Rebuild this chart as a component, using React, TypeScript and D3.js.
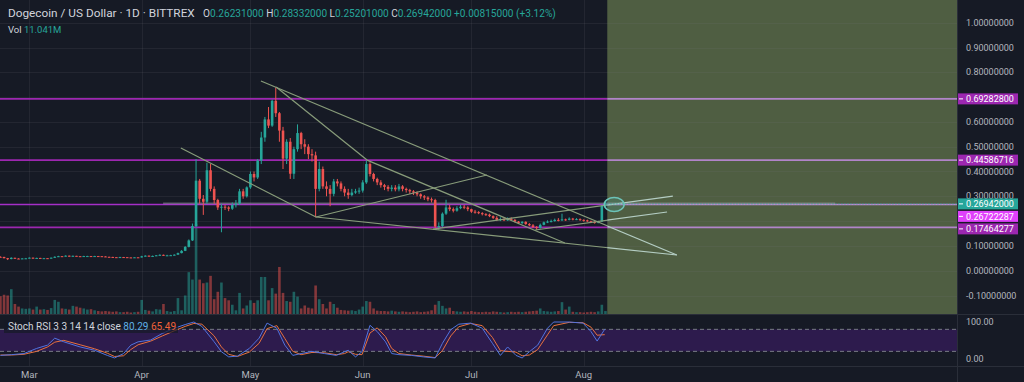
import React from 'react';
import * as d3 from 'd3';

// ---------- DATA (day 0 = 2021-02-21, daily candles) ----------
const firstOpen = 0.056;
const closes = [
  // Feb 21-28
  0.0555, 0.0505, 0.0470, 0.0520, 0.0490, 0.0485, 0.0495, 0.0500,
  // Mar
  0.0525, 0.0500, 0.0515, 0.0500, 0.0505, 0.0500, 0.0525, 0.0560, 0.0585, 0.0575, 0.0605, 0.0580, 0.0600, 0.0585, 0.0575, 0.0590,
  0.0590, 0.0580, 0.0590, 0.0585, 0.0575, 0.0560, 0.0555, 0.0545, 0.0540, 0.0550, 0.0545, 0.0535, 0.0530, 0.0540, 0.0535,
  // Apr
  0.0580, 0.0605, 0.0590, 0.0595, 0.0620, 0.0640, 0.0615, 0.0620, 0.0625, 0.0645, 0.0710, 0.0800, 0.0960, 0.1220, 0.1800,
  0.3630, 0.2900, 0.2780, 0.4050, 0.3300, 0.2850, 0.2550, 0.2580, 0.2550, 0.2500, 0.2650, 0.2700, 0.3200, 0.3000, 0.3360,
  // May
  0.3900, 0.3760, 0.4440, 0.5370, 0.6100, 0.5850, 0.6850, 0.6350, 0.5650, 0.4520, 0.5200, 0.3910, 0.4900, 0.5550, 0.5100, 0.5000,
  0.4700, 0.4650, 0.3300, 0.4100, 0.3400, 0.3300, 0.3100, 0.3600, 0.3520, 0.3300, 0.3150, 0.3050, 0.3150, 0.3200, 0.3230,
  // Jun
  0.3560, 0.4300, 0.3900, 0.3700, 0.3560, 0.3450, 0.3380, 0.3300, 0.3350, 0.3280, 0.3400, 0.3300, 0.3250, 0.3200, 0.3150,
  0.3080, 0.3000, 0.2950, 0.2880, 0.2850, 0.1780, 0.1800, 0.2300, 0.2550, 0.2480, 0.2420, 0.2520, 0.2580, 0.2550, 0.2480,
  // Jul
  0.2380, 0.2360, 0.2320, 0.2280, 0.2260, 0.2200, 0.2130, 0.2050, 0.2080, 0.2030, 0.2100, 0.2050, 0.1980, 0.1920, 0.1970, 0.1880,
  0.1830, 0.1760, 0.1720, 0.1850, 0.1950, 0.1980, 0.2000, 0.2050, 0.2030, 0.2070, 0.2050, 0.2100, 0.2070, 0.2080, 0.2050,
  // Aug
  0.2030, 0.2000, 0.1960, 0.1940, 0.1980, 0.2613, 0.2694,
];
const highs = [
  0.0580, 0.0560, 0.0515, 0.0540, 0.0525, 0.0505, 0.0510, 0.0515,
  0.0535, 0.0530, 0.0525, 0.0520, 0.0515, 0.0510, 0.0530, 0.0580, 0.0600, 0.0590, 0.0620, 0.0610, 0.0610, 0.0600, 0.0590, 0.0600,
  0.0600, 0.0595, 0.0600, 0.0595, 0.0590, 0.0580, 0.0565, 0.0560, 0.0550, 0.0560, 0.0555, 0.0550, 0.0540, 0.0545, 0.0545,
  0.0600, 0.0620, 0.0615, 0.0610, 0.0630, 0.0660, 0.0650, 0.0640, 0.0640, 0.0660, 0.0730, 0.0830, 0.0990, 0.1260, 0.1900,
  0.4500, 0.3700, 0.3050, 0.4350, 0.4300, 0.3400, 0.2900, 0.2700, 0.2650, 0.2600, 0.2750, 0.2850, 0.3300, 0.3300, 0.3400,
  0.4000, 0.4000, 0.4500, 0.5600, 0.6200, 0.6600, 0.6900, 0.7390, 0.6400, 0.5800, 0.5300, 0.5350, 0.5000, 0.5900, 0.5600, 0.5300,
  0.5100, 0.4900, 0.4800, 0.4400, 0.4200, 0.3600, 0.3450, 0.3700, 0.3700, 0.3600, 0.3400, 0.3300, 0.3300, 0.3300, 0.3350,
  0.3650, 0.4440, 0.4370, 0.3950, 0.3750, 0.3650, 0.3500, 0.3450, 0.3450, 0.3450, 0.3500, 0.3450, 0.3350, 0.3300, 0.3250,
  0.3200, 0.3120, 0.3050, 0.3000, 0.2950, 0.2900, 0.1950, 0.2350, 0.2860, 0.2650, 0.2550, 0.2600, 0.2650, 0.2650, 0.2600,
  0.2500, 0.2450, 0.2400, 0.2360, 0.2320, 0.2300, 0.2230, 0.2200, 0.2150, 0.2120, 0.2150, 0.2150, 0.2080, 0.2000, 0.2000, 0.1990,
  0.1920, 0.1880, 0.1800, 0.1900, 0.1980, 0.2030, 0.2060, 0.2100, 0.2120, 0.2300, 0.2100, 0.2150, 0.2130, 0.2120, 0.2110,
  0.2070, 0.2060, 0.2020, 0.1990, 0.2010, 0.2660, 0.2833,
];
const lows = [
  0.0540, 0.0495, 0.0430, 0.0460, 0.0480, 0.0470, 0.0480, 0.0485,
  0.0495, 0.0490, 0.0495, 0.0490, 0.0490, 0.0490, 0.0495, 0.0520, 0.0550, 0.0560, 0.0570, 0.0570, 0.0575, 0.0575, 0.0565, 0.0570,
  0.0580, 0.0575, 0.0575, 0.0575, 0.0565, 0.0550, 0.0545, 0.0535, 0.0530, 0.0535, 0.0535, 0.0525, 0.0520, 0.0525, 0.0525,
  0.0530, 0.0570, 0.0575, 0.0580, 0.0590, 0.0610, 0.0600, 0.0600, 0.0605, 0.0615, 0.0640, 0.0700, 0.0790, 0.0940, 0.1200,
  0.1750, 0.2700, 0.2250, 0.2700, 0.3200, 0.2700, 0.2450, 0.1550, 0.2450, 0.2400, 0.2450, 0.2550, 0.2650, 0.2900, 0.2950,
  0.3300, 0.3600, 0.3700, 0.4300, 0.5200, 0.5750, 0.5800, 0.6200, 0.5200, 0.4100, 0.4300, 0.3700, 0.3700, 0.4800, 0.4900, 0.4700,
  0.4500, 0.4400, 0.2150, 0.3200, 0.3300, 0.3000, 0.2600, 0.3000, 0.3400, 0.3200, 0.3000, 0.2900, 0.3000, 0.3100, 0.3100,
  0.3150, 0.3500, 0.3800, 0.3600, 0.3450, 0.3350, 0.3250, 0.3200, 0.3200, 0.3200, 0.3200, 0.3200, 0.3150, 0.3100, 0.3050,
  0.3000, 0.2900, 0.2850, 0.2800, 0.2750, 0.1700, 0.1650, 0.1750, 0.2250, 0.2400, 0.2350, 0.2380, 0.2480, 0.2480, 0.2400,
  0.2330, 0.2300, 0.2280, 0.2230, 0.2210, 0.2160, 0.2080, 0.2000, 0.2000, 0.2000, 0.2010, 0.2020, 0.1950, 0.1880, 0.1880, 0.1850,
  0.1800, 0.1720, 0.1650, 0.1700, 0.1830, 0.1920, 0.1950, 0.1980, 0.1990, 0.2000, 0.2010, 0.2030, 0.2030, 0.2040, 0.2010,
  0.1980, 0.1970, 0.1920, 0.1900, 0.1910, 0.1960, 0.2520,
];
const volumes = [
  48, 52, 50, 67, 27, 20, 15, 14,
  15, 12, 20, 12, 13, 11, 16, 38, 33, 15, 14, 12, 22, 20, 17, 15, 12, 13, 10, 8, 7, 8, 7, 6, 7, 5, 5, 6, 4, 5, 6,
  38, 11, 9, 7, 13, 12, 27, 8, 6, 8, 43, 10, 50, 113, 93, 243, 93, 83, 85, 103, 40, 60, 85, 43, 37, 25, 10, 57, 15, 23,
  37, 30, 37, 100, 100, 37, 70, 55, 127, 57, 35, 33, 60, 47, 15, 23, 17, 15, 77, 40, 27, 15, 33, 27, 17, 11, 10, 9, 10, 8, 12,
  20, 35, 33, 15, 9, 8, 8, 7, 9, 7, 6, 7, 6, 5, 6, 7, 5, 6, 7, 10, 25, 35, 22, 15, 17, 8, 7, 6, 7, 6,
  8, 6, 5, 5, 6, 5, 7, 6, 5, 4, 5, 6, 5, 6, 5, 6, 7, 8, 9, 15, 8, 7, 6, 7, 8, 32, 12, 20, 6, 5, 5,
  4, 5, 6, 5, 7, 25, 8,
];

const purpleLevels = [0.692828, 0.44586716, 0.17464277];
const magentaLevel = 0.26722287;
const lastPrice = 0.26942;
const priceTicks = [1.0, 0.9, 0.8, 0.6, 0.5, 0.4, 0.3, 0.1, 0.0, -0.1];
const gridLevels = [1.0, 0.9, 0.8, 0.7, 0.6, 0.5, 0.4, 0.3, 0.2, 0.1, 0.0, -0.1];
const monthLabels = ['Mar', 'Apr', 'May', 'Jun', 'Jul', 'Aug'];
const monthDays = [8, 39, 69, 100, 130, 161];

// trend lines: [day0, price0, day1, price1]
const trendLines = [
  [49.8, 0.495, 87.1, 0.2165],
  [87.1, 0.2165, 186.7, 0.0633],
  [87.1, 0.2165, 134.3, 0.386],
  [71.9, 0.765, 186.7, 0.0633],
  [76.1, 0.741, 101.2, 0.446],
  [101.2, 0.446, 155.8, 0.1117],
  [119.4, 0.168, 185.6, 0.301],
  [147.6, 0.164, 184.0, 0.2367],
];
const greyRay = [44.9, 230.4, 0.2715];
const ellipse = [169.4, 0.267, 2.76, 0.028];
const futureStartDay = 167.5;

const stochDays = [0, 3, 6.5, 10, 13, 15, 17.5, 22, 26, 29.5, 31.5, 34, 36, 38, 41.5, 44.7, 48, 51, 53.4, 55.6, 59, 61, 63, 65.4,
  68.7, 71.4, 73.6, 76.3, 78.5, 80.7, 83, 86, 89.4, 92.7, 95, 96, 98, 99.8, 102, 104, 106.3, 108, 110, 113.4, 116.7, 120, 122,
  124.3, 126.5, 129.8, 133, 135.8, 138, 140, 142.3, 144, 146, 148.3, 151, 152.7, 157, 160.8, 163, 164.7, 166.8];
const stochK = [9, 11, 14, 28, 37, 56, 46, 32, 23, 9, 2, 14, 37, 46, 51, 69, 83, 93, 100, 88, 46, 19, 5, 7,
  28, 56, 97, 83, 37, 9, 14, 20, 14, 9, 19, 23, 5, 19, 91, 74, 46, 14, 11, 9, 5, 2, 42,
  79, 94, 97, 83, 42, 9, 32, 9, 2, 19, 37, 83, 100, 100, 97, 74, 48, 80.29];
const stochD = [10, 10, 12, 20, 32, 45, 50, 38, 27, 15, 6, 8, 25, 38, 48, 62, 76, 88, 96, 94, 62, 32, 12, 6,
  18, 42, 82, 90, 55, 20, 11, 17, 16, 11, 14, 19, 12, 11, 70, 84, 60, 28, 14, 10, 7, 3, 22,
  62, 87, 96, 90, 58, 22, 20, 18, 8, 10, 25, 65, 90, 99, 98, 86, 64, 65.49];

// ---------- CHART ----------
const W = 1024;
const H = 382;
const AXIS_X = 957;
const MAIN_BOTTOM = 314;
const ST_TOP = 315;
const ST_BOTTOM = 366;
const FONT = "Roboto, 'Liberation Sans', Arial, sans-serif";
const UP = '#26a69a';
const DOWN = '#ef5350';

export default function App() {
  const x = d3.scaleLinear().domain([0, 264]).range([0.42, 0.42 + 264 * 3.623]);
  const y = d3.scaleLinear().domain([-0.1, 1]).range([295.5, 22.7]);
  const vy = d3.scaleLinear().domain([0, 243]).range([MAIN_BOTTOM, MAIN_BOTTOM - 90]);
  const sy = d3.scaleLinear().domain([0, 100]).range([358.7, 322]);

  const candles = closes.map((c, i) => ({
    i, o: i === 0 ? firstOpen : closes[i - 1], h: highs[i], l: lows[i], c, v: volumes[i],
  }));
  const bw = 2.6;

  const stLine = d3.line<number>().x((_, i) => x(stochDays[i])).y((v) => sy(v));
  const fmt = (v: number) => (v < 0 ? '-' : '') + Math.abs(v).toFixed(8);
  const futureX = x(futureStartDay);

  const lastX = x(closes.length - 1);
  const yTeal = y(lastPrice);
  const yMag = yTeal + 12.5;
  const yLow = Math.max(y(purpleLevels[2]), yMag + 12.5);

  const axisLabels = [
    { v: purpleLevels[0], yy: y(purpleLevels[0]), bg: '#9c27b0', fg: '#ffffff' },
    { v: purpleLevels[1], yy: y(purpleLevels[1]), bg: '#9c27b0', fg: '#ffffff' },
    { v: lastPrice, yy: yTeal, bg: '#26a69a', fg: '#ffffff' },
    { v: magentaLevel, yy: yMag, bg: '#e040fb', fg: '#ffffff' },
    { v: purpleLevels[2], yy: yLow, bg: '#9c27b0', fg: '#ffffff' },
  ];

  const levelLines = (col: string, magCol: string) => (
    <g>
      {purpleLevels.map((p) => (
        <line key={'p' + p} x1={0} x2={AXIS_X} y1={y(p)} y2={y(p)} stroke={col} strokeWidth={1.8} />
      ))}
      <line x1={0} x2={AXIS_X} y1={y(magentaLevel)} y2={y(magentaLevel)} stroke={magCol} strokeWidth={1.6} />
    </g>
  );
  const trends = (col: string) => (
    <g>
      {trendLines.map((t, i) => (
        <line key={'t' + i} x1={x(t[0])} y1={y(t[1])} x2={x(t[2])} y2={y(t[3])} stroke={col} strokeWidth={1.2} />
      ))}
    </g>
  );

  return (
    <svg width={W} height={H} style={{ position: 'absolute', left: 0, top: 0, display: 'block' }} fontFamily={FONT}>
      <defs>
        <clipPath id="pastClip"><rect x={0} y={0} width={futureX} height={MAIN_BOTTOM} /></clipPath>
        <clipPath id="futClip"><rect x={futureX} y={0} width={AXIS_X - futureX} height={MAIN_BOTTOM} /></clipPath>
        <clipPath id="mainClip"><rect x={0} y={0} width={AXIS_X} height={MAIN_BOTTOM} /></clipPath>
        <clipPath id="stClip"><rect x={0} y={ST_TOP} width={AXIS_X} height={ST_BOTTOM - ST_TOP} /></clipPath>
      </defs>
      <rect x={0} y={0} width={W} height={H} fill="#161a25" />

      {/* future highlighted zone */}
      <rect x={futureX} y={0} width={AXIS_X - futureX} height={MAIN_BOTTOM} fill="#4f5e42" />

      {/* grid */}
      <g stroke="rgba(120,123,134,0.13)" strokeWidth={1}>
        {gridLevels.map((g) => (
          <line key={'g' + g} x1={0} x2={AXIS_X} y1={Math.round(y(g)) + 0.5} y2={Math.round(y(g)) + 0.5} />
        ))}
        {monthDays.map((d) => (
          <line key={'m' + d} x1={Math.round(x(d)) + 0.5} x2={Math.round(x(d)) + 0.5} y1={0} y2={ST_BOTTOM} />
        ))}
      </g>

      <g clipPath="url(#mainClip)">
        {/* volume */}
        {candles.map((k) => (
          <rect key={'v' + k.i} x={x(k.i) - bw / 2} y={vy(k.v)} width={bw} height={MAIN_BOTTOM - vy(k.v)}
            fill={k.c >= k.o ? UP : DOWN} opacity={0.5} />
        ))}
      </g>

      {/* horizontal levels */}
      <g clipPath="url(#pastClip)">{levelLines('#9c27b0', '#a52fc8')}</g>
      <g clipPath="url(#futClip)">{levelLines('#b184c9', '#b98ad0')}</g>

      <g clipPath="url(#mainClip)">
        <line x1={x(greyRay[0])} x2={x(greyRay[1])} y1={y(greyRay[2])} y2={y(greyRay[2])}
          stroke="rgba(170,170,185,0.45)" strokeWidth={1.6} />

        {/* candles */}
        {candles.map((k) => {
          const col = k.c >= k.o ? UP : DOWN;
          const top = y(Math.max(k.o, k.c));
          const bot = y(Math.min(k.o, k.c));
          return (
            <g key={'c' + k.i}>
              <line x1={x(k.i)} x2={x(k.i)} y1={y(k.h)} y2={y(k.l)} stroke={col} strokeWidth={1} />
              <rect x={x(k.i) - bw / 2} y={top} width={bw} height={Math.max(1, bot - top)} fill={col} />
            </g>
          );
        })}
      </g>

      {/* trend lines */}
      <g clipPath="url(#pastClip)">{trends('#889c7a')}</g>
      <g clipPath="url(#futClip)">{trends('#b4cdc3')}</g>

      <g clipPath="url(#mainClip)">
        {/* ellipse */}
        <ellipse cx={x(ellipse[0])} cy={y(ellipse[1])} rx={x(ellipse[2]) - x(0)} ry={y(0) - y(ellipse[3])}
          fill="rgba(80,190,180,0.18)" stroke="#6cc3b8" strokeWidth={1.5} />
        {/* last price line */}
        <line x1={lastX + 2} x2={AXIS_X} y1={yTeal} y2={yTeal} stroke={UP} strokeWidth={1} strokeDasharray="1,2" />
      </g>

      {/* stoch pane */}
      <rect x={0} y={sy(80)} width={AXIS_X} height={sy(20) - sy(80)} fill="#2d1b4d" />
      <line x1={0} x2={AXIS_X} y1={sy(80)} y2={sy(80)} stroke="#787b86" strokeDasharray="4,3" strokeWidth={1} />
      <line x1={0} x2={AXIS_X} y1={sy(20)} y2={sy(20)} stroke="#787b86" strokeDasharray="4,3" strokeWidth={1} />
      <g clipPath="url(#stClip)">
        <path d={stLine(stochD) || ''} fill="none" stroke="#e8703f" strokeWidth={1} />
        <path d={stLine(stochK) || ''} fill="none" stroke="#5173e0" strokeWidth={1} />
      </g>
      <rect x={4} y={320} width={174} height={13} fill="rgba(22,26,37,0.7)" />
      <text x={8} y={330} fontSize={10} fill="#d1d4dc">
        Stoch RSI 3 3 14 14 close <tspan fill="#5fb0e6">80.29</tspan> <tspan fill="#f0613a">65.49</tspan>
      </text>

      {/* separators */}
      <line x1={0} x2={W} y1={MAIN_BOTTOM + 0.5} y2={MAIN_BOTTOM + 0.5} stroke="#2a2e39" />
      <line x1={0} x2={W} y1={ST_BOTTOM + 0.5} y2={ST_BOTTOM + 0.5} stroke="#2a2e39" />
      <line x1={AXIS_X + 0.5} x2={AXIS_X + 0.5} y1={0} y2={H} stroke="#2a2e39" />

      {/* price axis */}
      {priceTicks.map((t) => (
        <text key={'pt' + t} x={966} y={y(t)} dy="0.35em" fontSize={9} fill="#b2b5be">{fmt(t)}</text>
      ))}
      {axisLabels.map((a, i) => (
        <g key={'al' + i}>
          <rect x={AXIS_X + 1} y={a.yy - 5.5} width={60} height={11} fill={a.bg} />
          <line x1={959} x2={963} y1={a.yy} y2={a.yy} stroke={a.fg} strokeWidth={1} />
          <text x={966} y={a.yy} dy="0.35em" fontSize={9} fill={a.fg}>{a.v.toFixed(8)}</text>
        </g>
      ))}
      <text x={966} y={sy(100)} dy="0.35em" fontSize={9} fill="#b2b5be">100.00</text>
      <text x={966} y={sy(0)} dy="0.35em" fontSize={9} fill="#b2b5be">0.00</text>

      {/* time axis */}
      {monthLabels.map((m, i) => (
        <text key={m} x={x(monthDays[i])} y={378} textAnchor="middle" fontSize={9.5} fill="#b2b5be">{m}</text>
      ))}

      {/* header */}
      <text x={8} y={17} fontSize={11.8} fill="#d1d4dc">Dogecoin / US Dollar · 1D · BITTREX</text>
      <text x={203} y={17} fontSize={10.1} fill="#d1d4dc">
        O<tspan fill={UP}>0.26231000</tspan> H<tspan fill={UP}>0.28332000</tspan> L<tspan fill={UP}>0.25201000</tspan> C<tspan fill={UP}>0.26942000</tspan> <tspan fill={UP}>+0.00815000 (+3.12%)</tspan>
      </text>
      <text x={8} y={33} fontSize={9.5} fill="#d1d4dc">
        Vol <tspan fill={UP}>11.041M</tspan>
      </text>
    </svg>
  );
}
